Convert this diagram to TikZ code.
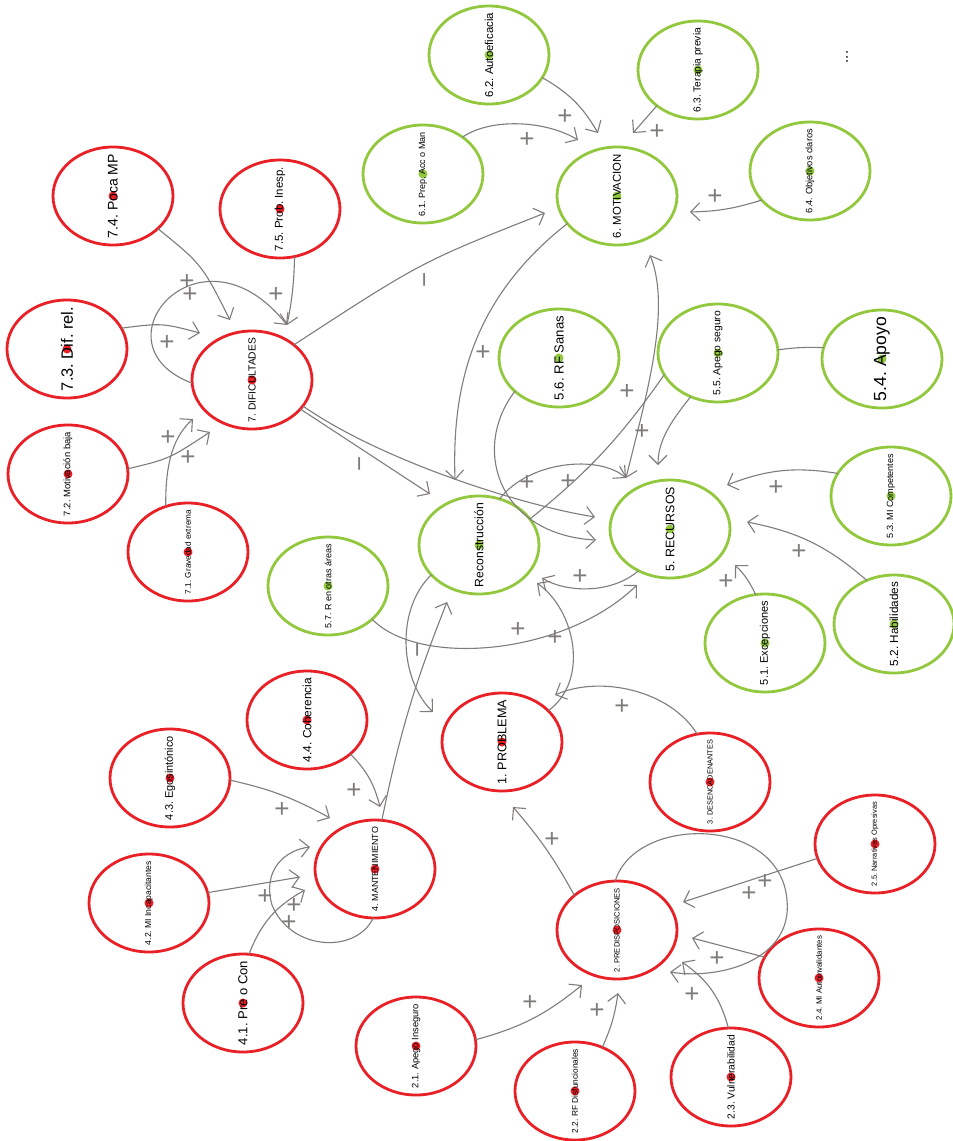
\documentclass[tikz,border=0pt]{standalone}
\usepackage{fontspec}
\setmainfont{Liberation Sans}
\usepackage{graphicx}
\usetikzlibrary{shapes.geometric,arrows.meta}
\definecolor{redc}{RGB}{234,32,39}
\definecolor{greenc}{RGB}{146,200,62}
\definecolor{linec}{RGB}{128,124,124}
\tikzset{
 bub/.style={ellipse,line width=2.8pt,minimum width=120pt,minimum height=98pt,inner sep=0pt,outer sep=0pt},
 rb/.style={bub,draw=redc},
 gb/.style={bub,draw=greenc},
 lab/.style={rotate=90,inner sep=0pt,text=black},
 conn/.style={draw=linec,line width=1.1pt},
 arr/.style={conn,-{Straight Barb[length=9pt,width=18pt]}},
 dbl/.style={conn,{Straight Barb[length=9pt,width=18pt]}-{Straight Barb[length=9pt,width=18pt]}},
 sgn/.style={text=linec,inner sep=0pt,font=\fontsize{26}{26}\selectfont},
 neg/.style={sgn,rotate=90},
}
\newcommand{\bub}[5]{%
 \node[#1] (#3) at (#4) {};
 \fill[#2] (#3.center) circle (4.5pt);
 \node[lab] (#3-t) at (#3.center) {\resizebox{84pt}{!}{#5}};
}
\frenchspacing
\begin{document}
\begin{tikzpicture}[x=1pt,y=-1pt]
\useasboundingbox (0,0) rectangle (953,1141);
\fill[white] (0,0) rectangle (953,1141);

% red nodes
\bub{rb}{redc}{r74}{113,196}{7.4. Poca MP}
\bub{rb}{redc}{r75}{280,209}{7.5. Prob. Inesp.}
\bub{rb}{redc}{r73}{67,349}{7.3. Dif. rel.}
\bub{rb}{redc}{r7}{252,380}{7. DIFICULTADES}
\bub{rb}{redc}{r72}{68,474}{7.2. Motivación baja}
\bub{rb}{redc}{r71}{188,552}{7.1. Gravedad extrema}
\bub{rb}{redc}{r44}{307,720}{4.4. Coherencia}
\bub{rb}{redc}{r43}{170,778}{4.3. Egosintónico}
\bub{rb}{redc}{r42}{149,903}{4.2. MI Incapacitantes}
\bub{rb}{redc}{r4}{375,869}{4. MANTENIMIENTO}
\bub{rb}{redc}{r41}{243,1003}{4.1. Pre o Con}
\bub{rb}{redc}{r21}{416,1046}{2.1. Apego Inseguro}
\bub{rb}{redc}{r1}{502,742}{1. PROBLEMA}
\bub{rb}{redc}{r3}{710,782}{3. DESENCADENANTES}
\bub{rb}{redc}{r25}{875,844}{2.5. Narrativas Opresivas}
\bub{rb}{redc}{r2}{617,930}{2. PREDISPOSICIONES}
\bub{rb}{redc}{r24}{819,978}{2.4. MI Autoinvalidantes}
\bub{rb}{redc}{r22}{575,1091}{2.2. RF Disfuncionales}
\bub{rb}{redc}{r23}{731,1077}{2.3. Vulnerabilidad}

% green nodes
\bub{gb}{greenc}{g62}{489,55}{6.2. Autoeficacia}
\bub{gb}{greenc}{g63}{698,70}{6.3. Terapia previa}
\bub{gb}{greenc}{g61}{423,174}{6.1. Prep, Acc o Man}
\bub{gb}{greenc}{g6}{617,196}{6. MOTIVACION}
\bub{gb}{greenc}{g64}{810,171}{6.4. Objetivos claros}
\bub{gb}{greenc}{g56}{559,358}{5.6. RF Sanas}
\bub{gb}{greenc}{g55}{718,353}{5.5. Apego seguro}
\bub{gb}{greenc}{g54}{882,359}{5.4. Apoyo}
\bub{gb}{greenc}{gR}{479,545}{Reconstrucción}
\bub{gb}{greenc}{g5}{670,529}{5. RECURSOS}
\bub{gb}{greenc}{g53}{891,496}{5.3. MI Competentes}
\bub{gb}{greenc}{g57}{328,586}{5.7. R en otras áreas}
\bub{gb}{greenc}{g51}{765,643}{5.1. Excepciones}
\bub{gb}{greenc}{g52}{894,624}{5.2. Habilidades}

\node[lab,font=\fontsize{15}{15}\selectfont] (dots) at (847,57) {...};

% arrow tips
\coordinate (t1) at (230,320);
\coordinate (t2) at (287,325);
\coordinate (t4) at (200,333);
\coordinate (t5) at (210,432);
\coordinate (t6) at (193,419);
\coordinate (t7) at (430,494);
\coordinate (t8) at (595,517);
\coordinate (t9) at (545,213);
\coordinate (t10) at (455,480);
\coordinate (t11a) at (626,478);
\coordinate (t11b) at (650,255);
\coordinate (t13) at (596,540);
\coordinate (t15) at (658,465);
\coordinate (t17) at (542,578);
\coordinate (t18) at (537,583);
\coordinate (t19) at (555,695);
\coordinate (t20) at (637,585);
\coordinate (t21) at (433,712);
\coordinate (t22) at (447,602);
\coordinate (t23) at (380,807);
\coordinate (t24) at (330,818);
\coordinate (t25) at (300,877);
\coordinate (t26) at (305,890);
\coordinate (t27) at (310,847);
\coordinate (t28) at (582,985);
\coordinate (t29) at (618,993);
\coordinate (t30) at (682,962);
\coordinate (t31) at (692,938);
\coordinate (t32) at (683,902);
\coordinate (t33) at (670,972);
\coordinate (t34) at (513,807);
\coordinate (t35) at (578,140);
\coordinate (t36) at (598,133);
\coordinate (t37) at (633,133);
\coordinate (t38) at (690,212);
\coordinate (t39) at (727,485);
\coordinate (t40) at (747,522);
\coordinate (t41) at (735,565);

% connectors
\draw[arr] (r74.-36) .. controls (202,264.5) .. (t1);
\draw[arr] (r75.-73) to[bend left=5] (t2);
\draw[arr] (r7.183) .. controls (90,345) and (200,215) .. (t2);
\draw[arr] (r73.21) .. controls (162,323) .. (t4);
\draw[arr] (r72.5) .. controls (169,459) .. (t5);
\draw[arr] (r71.116) .. controls (165,460) and (175,435) .. (t6);
\draw[arr] (r7.-31) -- (t7);
\draw[arr] (r7.-27) .. controls (380,460) and (520,505) .. (t8);
\draw[arr] (r7.40) .. controls (421,262) .. (t9);
\draw[arr] (g6.-151) .. controls (470,300) and (452,390) .. (t10);
\draw[dbl] (t11a) .. controls (645,400) and (672,310) .. (t11b);
\draw[arr] (gR.66) .. controls (530,460) and (600,455) .. (t11a);
\draw[arr] (g56.-143) .. controls (470,450) and (500,535) .. (t13);
\draw[conn] (g55.-158) to[bend left=8] (gR.27);
\draw[arr] (g55.-122) .. controls (672,420) and (658,440) .. (t15);
\draw[conn] (g55.3) to[bend left=5] (g54.169);
\draw[arr] (g5.-127) .. controls (610,595) and (565,592) .. (t17);
\draw[arr] (r1.34) .. controls (590,680) and (575,610) .. (t18);
\draw[arr] (r3.105) .. controls (670,690) and (600,675) .. (t19);
\draw[arr] (g57.-37) .. controls (420,668) and (565,655) .. (t20);
\draw[arr] (gR.-148) .. controls (395,610) and (400,680) .. (t21);
\draw[arr] (r4.82) to[bend left=5] (t22);
\draw[arr] (r44.-38) to[bend left=15] (t23);
\draw[arr] (r43.-2) to[bend left=8] (t24);
\draw[arr] (r42.10) -- (t25);
\draw[arr] (r41.83) to[bend left=20] (t26);
\draw[arr] (r4.-92) .. controls (355,955) and (290,950) .. (272,905) .. controls (262,870) and (285,850) .. (t27);
\draw[arr] (r21.6) to[bend right=12] (t28);
\draw[arr] (r22.58) to[bend right=8] (t29);
\draw[arr] (r23.93) to[bend right=20] (t30);
\draw[arr] (r24.159) -- (t31);
\draw[arr] (r25.-166) -- (t32);
\draw[arr] (r2.92) .. controls (635,815) and (780,815) .. (787,900) .. controls (793,960) and (720,980) .. (t33);
\draw[arr] (r2.141) to[bend right=6] (t34);
\draw[arr] (g61.43) .. controls (490,118) and (545,120) .. (t35);
\draw[arr] (g62.-23) to[bend left=15] (t36);
\draw[arr] (g63.-139) -- (t37);
\draw[arr] (g64.-149) to[bend left=8] (t38);
\draw[arr] (g53.157) to[bend right=15] (t39);
\draw[arr] (g52.122) to[bend right=15] (t40);
\draw[arr] (g51.101) to[bend right=10] (t41);

% signs
\node[sgn] (p1) at (187,282) {+};
\node[sgn] (p2) at (190,295) {+};
\node[sgn] (p3) at (276,295) {+};
\node[sgn] (p4) at (167,343) {+};
\node[sgn] (p5) at (188,458) {+};
\node[sgn] (p6) at (168,438) {+};
\node[neg] (m1) at (428,280) {−};
\node[neg] (m2) at (363,464) {−};
\node[neg] (m3) at (421,650) {−};
\node[sgn] (p7) at (483,353) {+};
\node[sgn] (p8) at (627,392) {+};
\node[sgn] (p9) at (642,432) {+};
\node[sgn] (p10) at (527,483) {+};
\node[sgn] (p11) at (568,482) {+};
\node[sgn] (p12) at (580,577) {+};
\node[sgn] (p13) at (518,630) {+};
\node[sgn] (p14) at (555,638) {+};
\node[sgn] (p15) at (622,707) {+};
\node[sgn] (p16) at (354,791) {+};
\node[sgn] (p17) at (282,810) {+};
\node[sgn] (p18) at (265,897) {+};
\node[sgn] (p19) at (294,906) {+};
\node[sgn] (p20) at (289,923) {+};
\node[sgn] (p21) at (530,1003) {+};
\node[sgn] (p22) at (597,1011) {+};
\node[sgn] (p23) at (692,995) {+};
\node[sgn] (p24) at (717,959) {+};
\node[sgn] (p25) at (765,882) {+};
\node[sgn] (p26) at (749,894) {+};
\node[sgn] (p27) at (552,840) {+};
\node[sgn] (p28) at (527,140) {+};
\node[sgn] (p29) at (565,117) {+};
\node[sgn] (p30) at (657,132) {+};
\node[sgn] (p31) at (715,197) {+};
\node[sgn] (p32) at (776,488) {+};
\node[sgn] (p33) at (799,552) {+};
\node[sgn] (p34) at (726,582) {+};
\end{tikzpicture}
\end{document}
